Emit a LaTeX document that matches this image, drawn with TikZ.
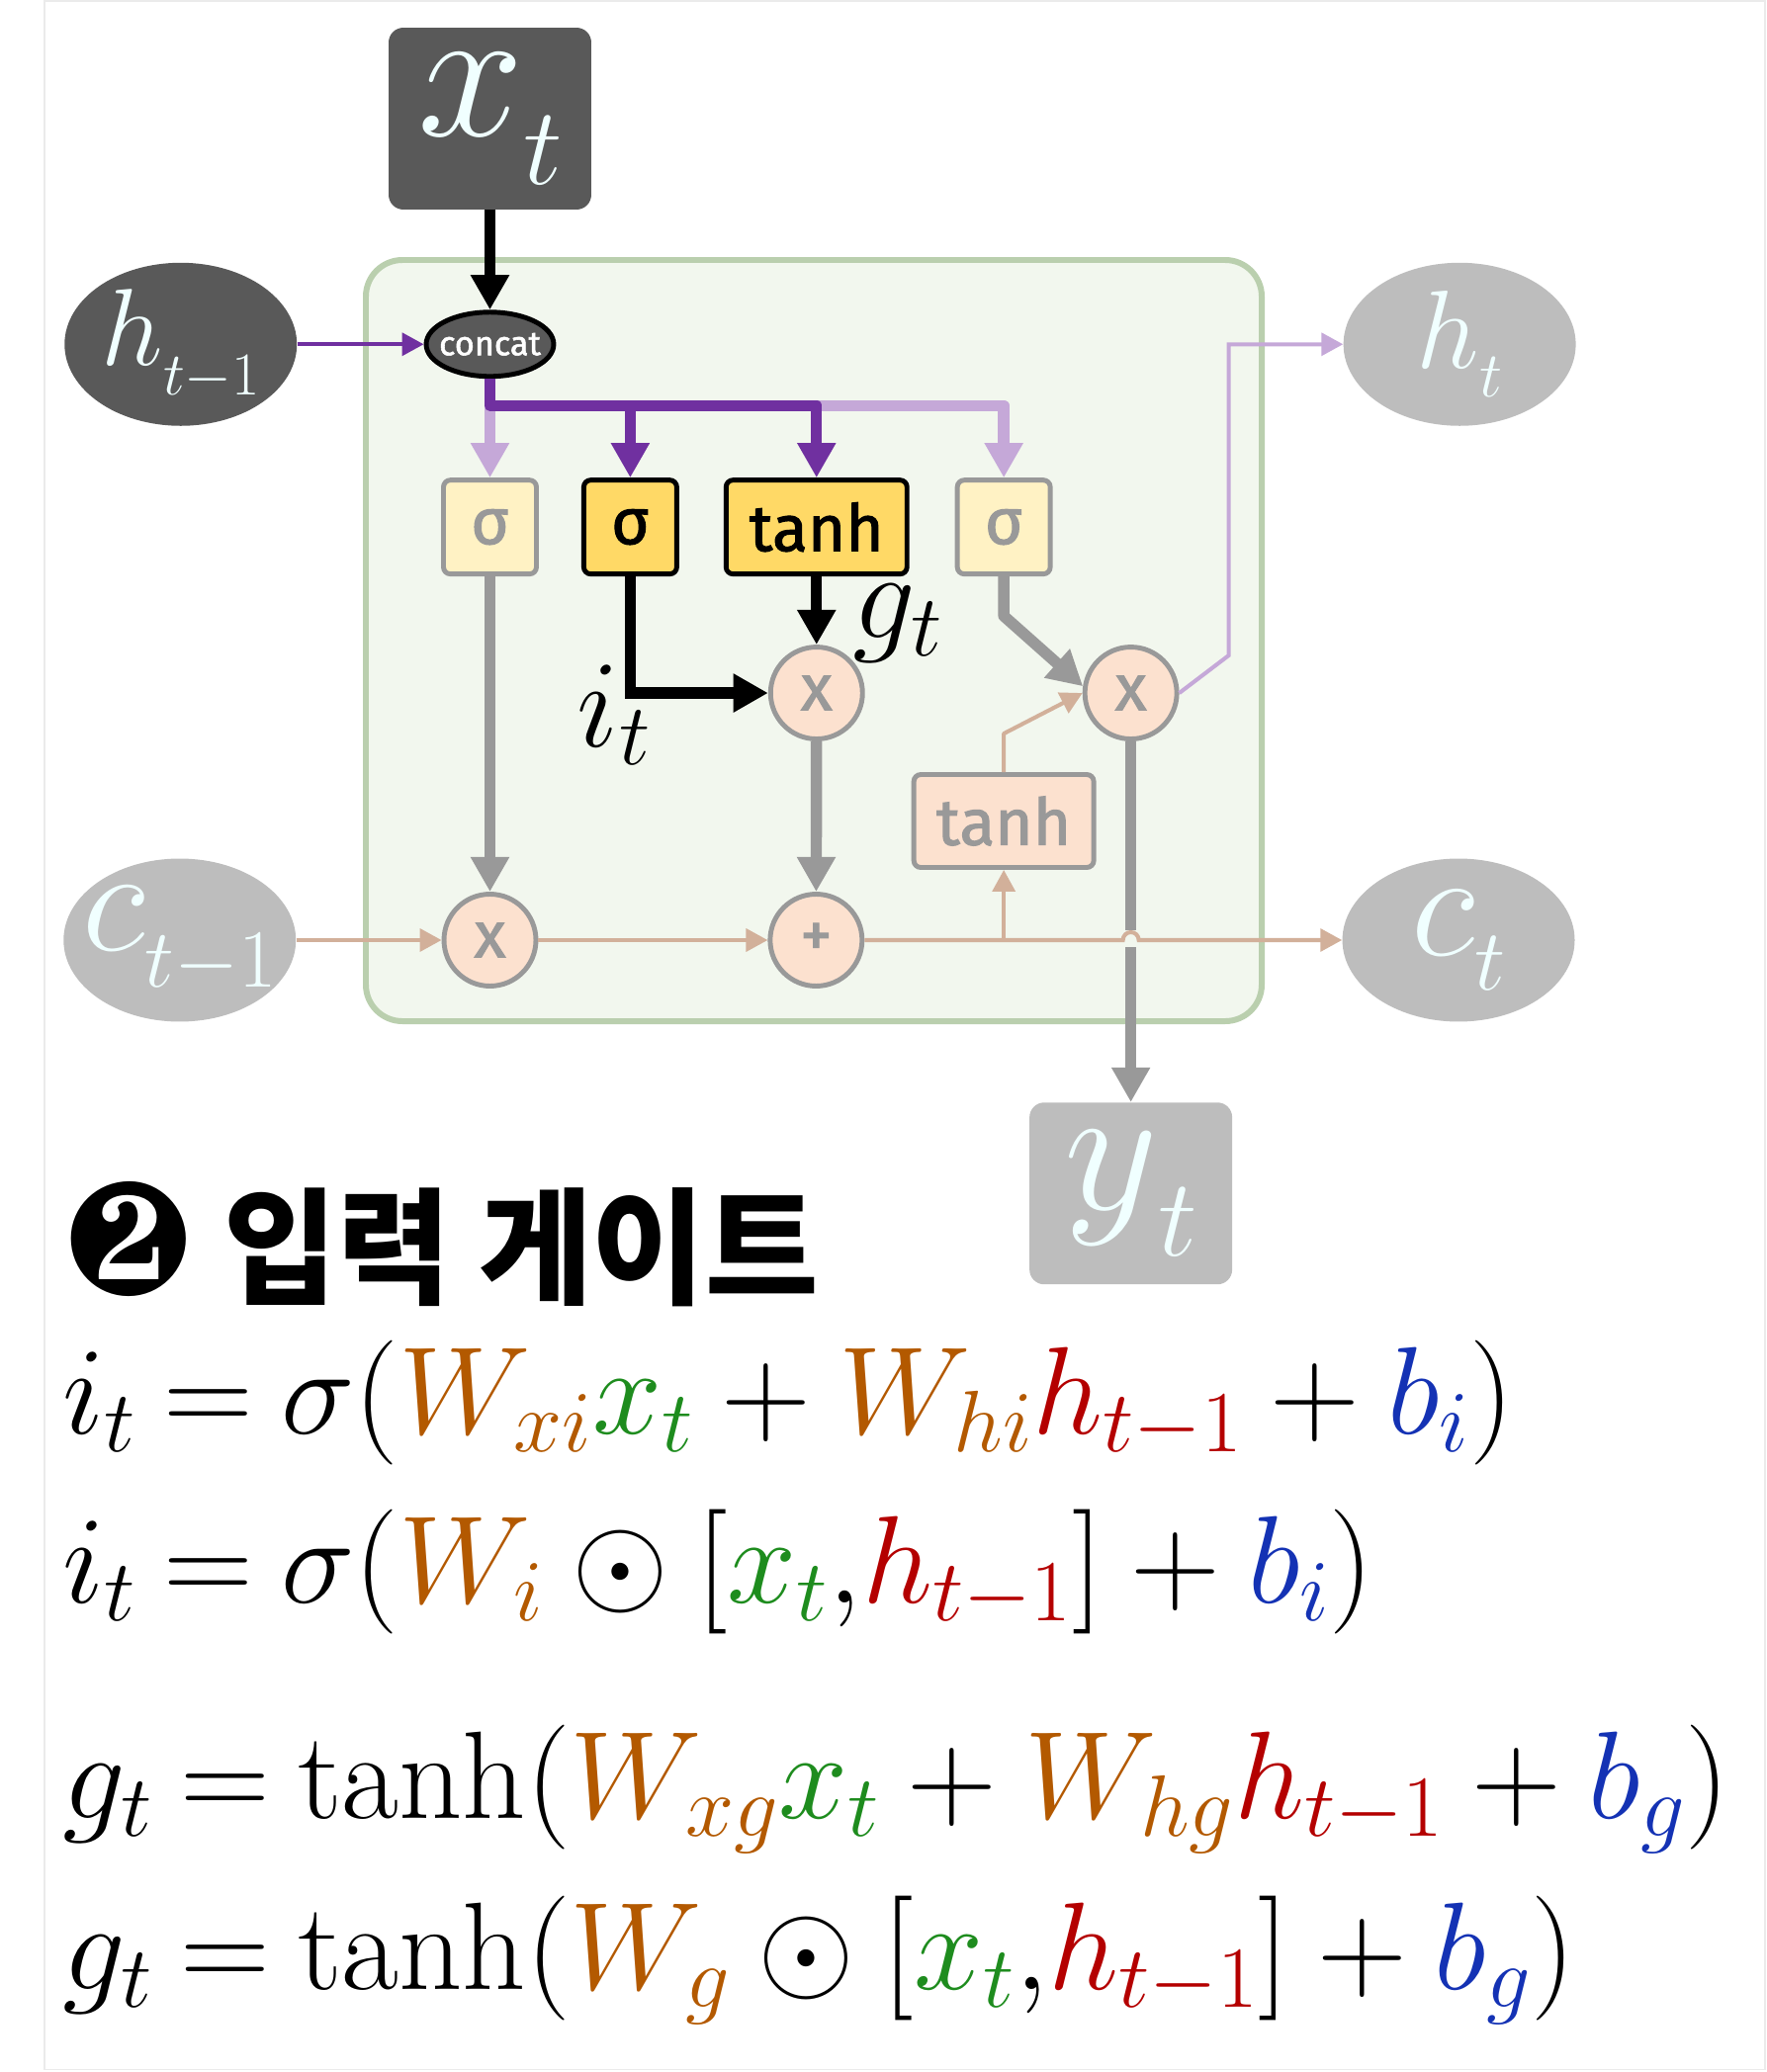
\RequirePackage{fix-cm}
\documentclass[tikz,border=0pt]{standalone}
\usepackage{fontspec}
\usepackage{pifont}
\usetikzlibrary{positioning,arrows.meta,calc,shapes.geometric}

\newfontfamily\gatefont{Fira Sans}[FakeBold=1.6]
\newfontfamily\krfont{Noto Sans CJK KR}[FakeStretch=0.975]

\definecolor{darkfill}{HTML}{595959}
\definecolor{fadefill}{HTML}{BDBDBD}
\definecolor{symtext}{HTML}{F0FFFF}
\definecolor{cellfill}{HTML}{F2F7EE}
\definecolor{celldraw}{HTML}{BACFAE}
\definecolor{gatefill}{HTML}{FFD966}
\definecolor{gatefade}{HTML}{FFF2C4}
\definecolor{opfill}{HTML}{FCE1CF}
\definecolor{linegray}{HTML}{999999}
\definecolor{hpurple}{HTML}{7030A0}
\definecolor{hlight}{HTML}{C5A8D8}
\definecolor{ctan}{HTML}{D2B09A}
\definecolor{wcol}{HTML}{B35900}
\definecolor{xcol}{HTML}{1E8C1E}
\definecolor{hcol}{HTML}{B40000}
\definecolor{bcol}{HTML}{1432B4}

% symbol with its own subscript size and drop
\newcommand\symsub[5]{{\fontsize{#2}{#2}\selectfont$#1$}\raisebox{-#5}{\fontsize{#4}{#4}\selectfont$#3$}}
\newcommand\gatesize{\gatefont\fontsize{37.4pt}{40pt}\selectfont}
\thickmuskip=4mu
\medmuskip=4mu

\begin{document}
\begin{tikzpicture}[
    x=0.02cm,
    y=-0.02cm,
    oval/.style={
        ellipse,
        minimum width=4.7cm,
        minimum height=3.3cm,
        inner sep=-0.8cm
    },
    sqbox/.style={
        rectangle,
        rounded corners=8.5pt,
        minimum width=4.1cm,
        minimum height=3.68cm,
        inner sep=0pt
    },
    insym/.style={fill=darkfill,text=symtext},
    outsym/.style={fill=fadefill,text=symtext},
    gatebox/.style={
        draw=black,
        line width=2.8pt,
        fill=gatefill,
        rounded corners=4pt,
        minimum width=1.88cm,
        minimum height=1.9cm,
        inner sep=0pt,
        font=\gatesize
    },
    fadebox/.style={
        gatebox,
        draw=linegray,
        fill=gatefade,
        text=linegray
    },
    opnode/.style={
        circle,
        draw=linegray,
        line width=2.8pt,
        fill=opfill,
        text=linegray,
        minimum size=1.86cm,
        inner sep=0pt,
        font=\gatesize
    },
    lbl/.style={inner sep=0pt,font=\fontsize{71.7pt}{80pt}\selectfont},
    thickline/.style={line width=6.5pt,-{Triangle[length=20pt,width=21pt]}},
    thinline/.style={line width=2.3pt,-{Triangle[length=12.5pt,width=13pt]}}
]

\useasboundingbox (0,0) rectangle (1787,2096);
\draw[black!8,line width=0.6pt] (45,1) rectangle (1785,2093);

%------------------------------------------------
% Cell
%------------------------------------------------

\draw[celldraw,fill=cellfill,line width=3.4pt,rounded corners=21pt]
(370,263) rectangle (1276,1033);

%------------------------------------------------
% Inputs and concat
%------------------------------------------------

\node[sqbox,insym] (xt) at (495.5,120) {\symsub{x}{110pt}{t}{63.5pt}{28pt}};

\node[ellipse,draw=black,line width=2.8pt,fill=darkfill,text=white,
minimum width=2.58cm,minimum height=1.3cm,inner xsep=-0.35cm,inner ysep=0pt,
font=\gatefont\fontsize{19.5pt}{20pt}\selectfont,
below=2.02cm of xt] (concat) {concat};

\node[oval,insym,left=2.56cm of concat] (hprev)
{\symsub{h}{63pt}{t{-}1}{35pt}{17pt}};

%------------------------------------------------
% Gates
%------------------------------------------------

\node[fadebox,below=2cm of concat] (sigf) {σ};
\node[gatebox,right=0.86cm of sigf] (sigi) {σ};
\node[gatebox,minimum width=3.66cm,right=0.9cm of sigi] (tanh) {tanh};
\node[fadebox,right=0.92cm of tanh] (sigo) {σ};

\node[opnode,below=1.38cm of tanh] (multi) {x};
\node[opnode,right=4.4cm of multi] (multo) {x};
\node[opnode,below=6.38cm of sigf] (multf) {x};
\node[opnode,right=4.64cm of multf] (plus) {+};

\node[fadebox,fill=opfill,minimum width=3.64cm,minimum height=1.88cm,
below=3.96cm of sigo] (tanhc) {tanh};

%------------------------------------------------
% States and output
%------------------------------------------------

\node[oval,outsym,left=2.94cm of multf] (cprev)
{\symsub{c}{85.6pt}{t{-}1}{47.6pt}{21.5pt}};
\node[oval,outsym,right=9.66cm of plus] (ct)
{\symsub{c}{86.7pt}{t}{50pt}{20pt}};
\node[oval,outsym,right=15.92cm of concat] (ht)
{\symsub{h}{64pt}{t}{37pt}{16.5pt}};
\node[sqbox,outsym,below=7.3cm of multo] (yt)
{\symsub{y}{105pt}{t}{63.5pt}{27pt}};

\node[lbl,anchor=base] (itlbl) at (621,755) {$i_t$};
\node[lbl,anchor=base] (gtlbl) at (908,645) {$g_t$};

%------------------------------------------------
% Connectors
%------------------------------------------------

\draw[thickline,black] (xt) -- (concat);
\draw[thinline,hpurple] (hprev) -- (concat);

\coordinate[below=0.54cm of concat] (bus);
\draw[thickline,hlight] (bus) -- (sigf);
\draw[thickline,hlight,line join=round] (tanh.north |- bus) -| (sigo);
\draw[thickline,hpurple,line join=round] (concat.south) |- (tanh.north |- bus) -- (tanh);
\draw[thickline,hpurple] (sigi.north |- bus) -- (sigi);

\draw[thickline,linegray] (sigf) -- (multf);
\draw[thickline,black] (sigi) |- (multi);
\draw[thickline,black] (tanh) -- (multi);
\draw[thickline,linegray] (multi) -- (plus);

\draw[thickline,linegray,line join=round] (sigo.south) -- ++(0,-0.8cm) -- (multo.172);
\draw[thickline,linegray] (multo) -- (yt);
\draw[thinline,hlight] (multo.east) -- ++(1cm,0.76cm) |- (ht);

\draw[thinline,ctan] (cprev) -- (multf);
\draw[thinline,ctan] (multf) -- (plus);
\coordinate (cross) at (multo.south |- plus.east);
\fill[cellfill] ($(cross)+(-0.14cm,-0.14cm)$) rectangle ($(cross)+(0.14cm,0.2cm)$);
\draw[thinline,ctan] (plus) -- ($(cross)+(-0.16cm,0)$)
arc[start angle=180,end angle=0,radius=0.16cm] -- (ct);
\draw[thinline,ctan] (tanhc.south |- plus.east) -- (tanhc);
\draw[thinline,ctan,line join=round] (tanhc.north) -- ++(0,0.78cm) -- (multo.west);

%------------------------------------------------
% Title and equations
%------------------------------------------------

\node[anchor=base west,inner sep=0pt] (title) at (66,1309)
{{\fontsize{92pt}{92pt}\selectfont\ding{183}}\hspace{0.66cm}{\krfont\bfseries\fontsize{72.7pt}{80pt}\selectfont 입력 게이트}};

\node[lbl,anchor=base west] (eqa) at (63,1450)
{$i_t=\sigma(\textcolor{wcol}{W_{xi}}\textcolor{xcol}{x_t}+\textcolor{wcol}{W_{hi}}\textcolor{hcol}{h_{t-1}}+\textcolor{bcol}{b_i})$};
\node[lbl,anchor=base west] (eqb) at (63,1621)
{$i_t=\sigma(\textcolor{wcol}{W_i}\odot[\textcolor{xcol}{x_t}{,}\textcolor{hcol}{h_{t-1}}]+\textcolor{bcol}{b_i})$};
\node[lbl,anchor=base west] (eqc) at (63,1839)
{$g_t=\tanh(\textcolor{wcol}{W_{xg}}\textcolor{xcol}{x_t}+\textcolor{wcol}{W_{hg}}\textcolor{hcol}{h_{t-1}}+\textcolor{bcol}{b_g})$};
\node[lbl,anchor=base west] (eqd) at (63,2012)
{$g_t=\tanh(\textcolor{wcol}{W_g}\odot[\textcolor{xcol}{x_t}{,}\textcolor{hcol}{h_{t-1}}]+\textcolor{bcol}{b_g})$};

\end{tikzpicture}
\end{document}
